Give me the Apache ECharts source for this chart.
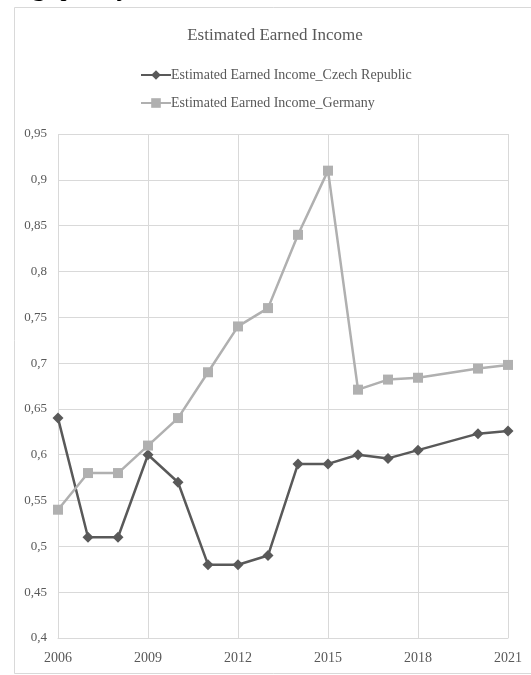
<!DOCTYPE html>
<html>
<head>
<meta charset="utf-8">
<script src="https://cdn.jsdelivr.net/npm/echarts@6/dist/echarts.min.js"></script>
<style>
  html, body { margin: 0; padding: 0; background: #fff; }
  #chart { width: 531px; height: 675px; }
</style>
</head>
<body>
<div id="chart"></div>
<script>
const years = ['2006','2007','2008','2009','2010','2011','2012','2013','2014','2015','2016','2017','2018','2019','2020','2021'];
const czech = [0.64, 0.51, 0.51, 0.60, 0.57, 0.48, 0.48, 0.49, 0.59, 0.59, 0.600, 0.596, 0.605, null, 0.623, 0.626];
const germany = [0.54, 0.58, 0.58, 0.61, 0.64, 0.69, 0.74, 0.76, 0.84, 0.91, 0.671, 0.682, 0.684, null, 0.694, 0.698];
const seriesNames = ['Estimated Earned Income_Czech Republic', 'Estimated Earned Income_Germany'];
const titleText = 'Estimated Earned Income';

const serif = '"Liberation Serif", "Times New Roman", serif';
const chart = echarts.init(document.getElementById('chart'), null, { renderer: 'canvas' });
chart.setOption({
  animation: false,
  backgroundColor: '#fff',
  graphic: [
    { type: 'rect', shape: { x: 14.5, y: 7.5, width: 600, height: 666 },
      style: { fill: 'none', stroke: '#d9d9d9', lineWidth: 1 }, silent: true },
    { type: 'text', left: 10, top: -26,
      style: { text: 'ing quality', font: '28px ' + serif, fill: '#000' }, silent: true }
  ],
  title: {
    text: titleText,
    left: 270, textAlign: 'center', top: 22,
    textStyle: { fontFamily: serif, fontSize: 17, fontWeight: 'normal', color: '#595959' }
  },
  legend: {
    orient: 'vertical', left: 135, top: 63, itemGap: 14,
    itemWidth: 30, itemHeight: 12,
    textStyle: { fontFamily: serif, fontSize: 14, color: '#595959', padding: [0, 0, 0, -5] },
    data: seriesNames
  },
  grid: { left: 58, right: 23, top: 134, bottom: 37, containLabel: false },
  xAxis: {
    type: 'category', data: years, boundaryGap: false,
    axisLine: { lineStyle: { color: '#d9d9d9', width: 1 } },
    axisTick: { show: false },
    axisLabel: { interval: 2, margin: 13, fontFamily: serif, fontSize: 14, color: '#595959' },
    splitLine: { show: true, interval: 2, lineStyle: { color: '#d9d9d9', width: 1 } }
  },
  yAxis: {
    type: 'value', min: 0.4, max: 0.95, interval: 0.05,
    axisLine: { show: false }, axisTick: { show: false },
    axisLabel: { margin: 11, fontFamily: serif, fontSize: 13, color: '#595959',
      formatter: v => String(+v.toFixed(2)).replace('.', ',') },
    splitLine: { lineStyle: { color: '#d9d9d9', width: 1 } }
  },
  series: [
    { name: seriesNames[0], type: 'line', data: czech, connectNulls: true,
      symbol: 'diamond', symbolSize: 11, color: '#595959',
      lineStyle: { width: 2.5, color: '#595959' }, itemStyle: { color: '#595959' } },
    { name: seriesNames[1], type: 'line', data: germany, connectNulls: true,
      symbol: 'rect', symbolSize: 10, color: '#b0b0b0',
      lineStyle: { width: 2.5, color: '#b0b0b0' }, itemStyle: { color: '#b0b0b0' } }
  ]
});
</script>
</body>
</html>
